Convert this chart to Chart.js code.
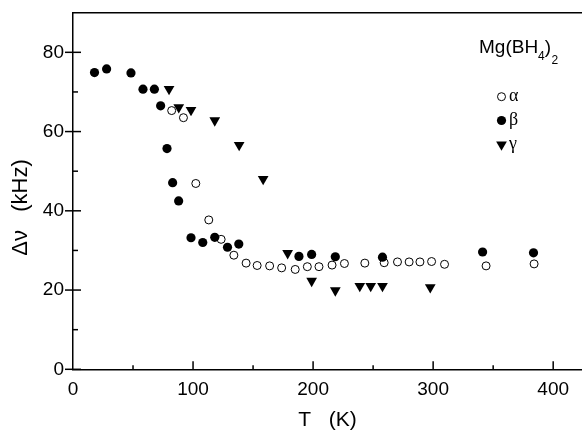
<!DOCTYPE html>
<html>
<head>
<meta charset="utf-8">
<script src="https://cdn.jsdelivr.net/npm/chart.js@4.4.0/dist/chart.umd.min.js"></script>
<style>
  html, body { margin: 0; padding: 0; background: #fff; }
</style>
</head>
<body>
<canvas id="grafica" width="582" height="431"></canvas>
<script>
// alpha (open circles)
const tAlfa = [82.2, 92, 102.3, 113.1, 123.4, 134, 144.2, 153.4, 163.8, 173.8, 185.1, 195.2, 204.9, 215.8, 226.1, 243.1, 259.2, 270.3, 280, 289, 298.7, 309.5, 344.1, 384.1];
const dnuAlfa = [65.3, 63.5, 46.9, 37.7, 32.8, 28.8, 26.8, 26.2, 26.1, 25.6, 25.2, 25.9, 25.9, 26.3, 26.7, 26.8, 26.9, 27.1, 27.1, 27.1, 27.2, 26.5, 26.1, 26.6];
// beta (filled circles)
const tBeta = [17.9, 28, 48.3, 58.3, 67.8, 73, 78.3, 83, 88, 98.3, 108.1, 118.1, 128.7, 138.1, 188.2, 198.8, 218.5, 257.8, 341.2, 383.6];
const dnuBeta = [74.9, 75.8, 74.8, 70.7, 70.7, 66.5, 55.7, 47.1, 42.5, 33.2, 32.0, 33.3, 30.8, 31.6, 28.5, 29.0, 28.4, 28.3, 29.6, 29.4];
// gamma (down triangles)
const tGamma = [80, 88.1, 98.3, 118.1, 138.4, 158.4, 178.8, 198.8, 218.5, 238.9, 248, 257.8, 297.6];
const dnuGamma = [70.7, 66.1, 65.4, 62.8, 56.6, 48.0, 29.3, 22.3, 19.9, 21.0, 21.0, 21.0, 20.7];

const etiquetas = ['α', 'β', 'γ'];
const fuente = 'Liberation Sans, Arial, sans-serif';

const puntos = (xs, ys) => xs.map((x, i) => ({ x: x, y: ys[i] }));

// ejes, marcas y leyenda dibujados a mano
const extras = {
    id: 'extras',
    afterDraw(chart) {
        const c = chart.ctx;
        const area = chart.chartArea;
        const sx = chart.scales.x, sy = chart.scales.y;
        c.save();
        c.strokeStyle = '#000';
        c.fillStyle = '#000';
        c.lineWidth = 1.5;

        // borde superior
        c.beginPath();
        c.moveTo(area.left, area.top);
        c.lineTo(area.right, area.top);
        c.stroke();

        // marcas eje x (hacia dentro)
        sx.ticks.forEach(t => {
            if (t.value <= sx.min || t.value >= sx.max) return;
            const px = sx.getPixelForValue(t.value);
            const len = t.value % 100 === 0 ? 8 : 4;
            c.beginPath();
            c.moveTo(px, area.bottom);
            c.lineTo(px, area.bottom - len);
            c.stroke();
        });
        // marcas eje y
        sy.ticks.forEach(t => {
            if (t.value >= sy.max) return;
            const py = sy.getPixelForValue(t.value);
            const mayor = t.value % 20 === 0;
            c.beginPath();
            c.moveTo(mayor ? area.left - 8 : area.left, py);
            c.lineTo(area.left + (mayor ? 8 : 5), py);
            c.stroke();
        });

        // titulo eje y
        c.save();
        c.translate(21, 207.5);
        c.rotate(-Math.PI / 2);
        c.font = '22px ' + fuente;
        c.textAlign = 'center';
        c.textBaseline = 'middle';
        c.fillText('Δν   (kHz)', 0, 0);
        c.restore();

        // Mg(BH4)2
        let x = 479;
        const base = 52.7;
        c.textAlign = 'left';
        c.textBaseline = 'alphabetic';
        c.font = '19px ' + fuente;
        c.fillText('Mg(BH', x, base);
        x += c.measureText('Mg(BH').width;
        c.font = '12px ' + fuente;
        c.fillText('4', x, base + 7);
        x += c.measureText('4').width;
        c.font = '19px ' + fuente;
        c.fillText(')', x, base);
        x += c.measureText(')').width;
        c.font = '12px ' + fuente;
        c.fillText('2', x + 0.5, base + 11);

        // leyenda
        const filas = [96.7, 120.5, 144.5];
        chart.data.datasets.forEach((ds, i) => {
            c.fillStyle = ds.backgroundColor;
            c.strokeStyle = ds.borderColor;
            c.lineWidth = ds.borderWidth;
            Chart.helpers.drawPoint(c, {
                pointStyle: ds.pointStyle,
                rotation: ds.rotation || 0,
                radius: ds.pointRadius,
                borderWidth: ds.borderWidth
            }, 501.5, filas[i]);
            c.fillStyle = '#000';
            c.font = '18px Liberation Serif, Times New Roman, serif';
            c.textBaseline = 'middle';
            c.fillText(etiquetas[i], 509, filas[i]);
        });
        c.restore();
    }
};

new Chart(document.getElementById('grafica').getContext('2d'), {
    type: 'scatter',
    data: {
        datasets: [
            {
                label: etiquetas[0],
                data: puntos(tAlfa, dnuAlfa),
                pointStyle: 'circle',
                pointRadius: 4,
                borderWidth: 1,
                borderColor: '#000',
                backgroundColor: '#fff',
                order: 3
            },
            {
                label: etiquetas[1],
                data: puntos(tBeta, dnuBeta),
                pointStyle: 'circle',
                pointRadius: 4.6,
                borderWidth: 0,
                borderColor: '#000',
                backgroundColor: '#000',
                order: 1
            },
            {
                label: etiquetas[2],
                data: puntos(tGamma, dnuGamma),
                pointStyle: 'triangle',
                rotation: 180,
                pointRotation: 180,
                pointRadius: 6.2,
                borderWidth: 0,
                borderColor: '#000',
                backgroundColor: '#000',
                order: 2
            }
        ]
    },
    options: {
        responsive: false,
        animation: false,
        layout: { autoPadding: false, padding: { top: 12.7, right: 0, left: 0, bottom: 0 } },
        plugins: {
            legend: { display: false },
            tooltip: { enabled: false }
        },
        scales: {
            x: {
                type: 'linear',
                min: 0,
                max: 424,
                afterFit: s => { s.height = 61.7; s.paddingLeft = 0; s.paddingRight = 0; },
                grid: { display: false, drawTicks: false },
                border: { display: true, color: '#000', width: 1.5 },
                ticks: {
                    stepSize: 50,
                    includeBounds: false,
                    autoSkip: false,
                    maxRotation: 0,
                    padding: 9,
                    color: '#000',
                    font: { family: fuente, size: 19 },
                    callback: v => v % 100 === 0 ? v : ''
                },
                title: {
                    display: true,
                    text: 'T   (K)',
                    color: '#000',
                    font: { family: fuente, size: 21, lineHeight: 1.05 },
                    padding: { top: 0, bottom: 0 }
                }
            },
            y: {
                min: 0,
                max: 90,
                afterFit: s => { s.width = 73; s.paddingTop = 0; s.paddingBottom = 0; },
                grid: { display: false, drawTicks: false },
                border: { display: true, color: '#000', width: 1.5 },
                ticks: {
                    stepSize: 10,
                    autoSkip: false,
                    padding: 9,
                    color: '#000',
                    font: { family: fuente, size: 19 },
                    callback: v => v % 20 === 0 ? v : ''
                }
            }
        }
    },
    plugins: [extras]
});
</script>
</body>
</html>
